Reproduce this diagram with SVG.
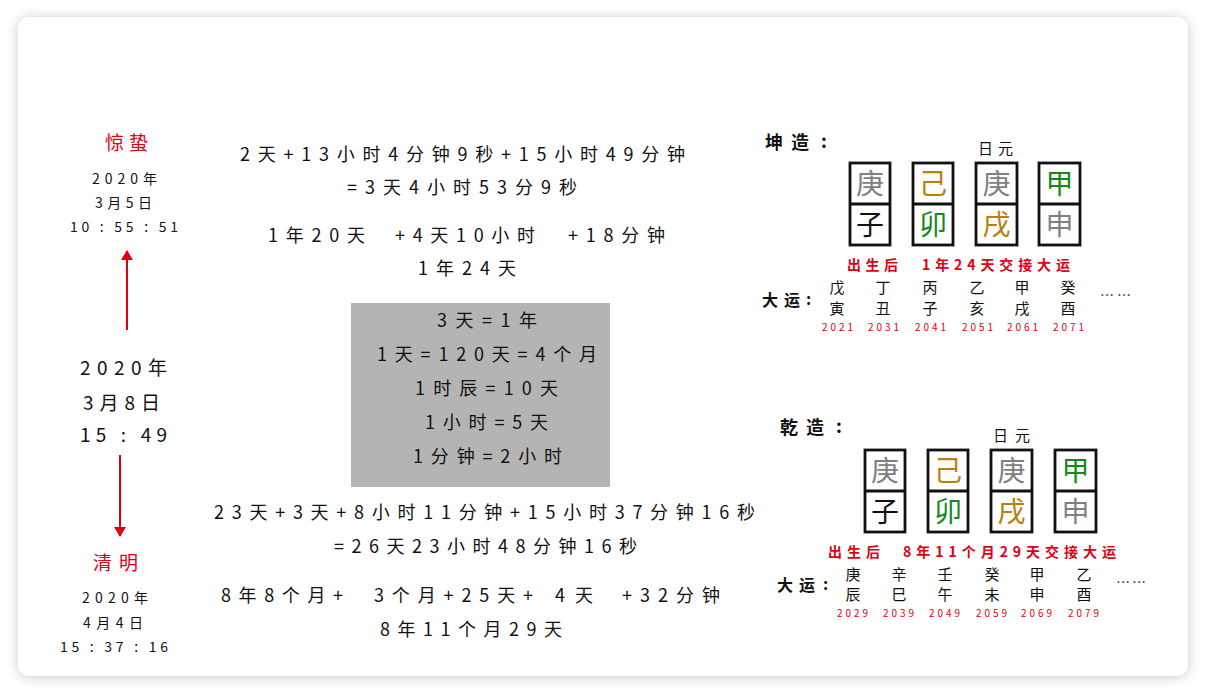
<svg xmlns="http://www.w3.org/2000/svg" width="1206" height="695" viewBox="0 0 1206 695">
<style>
text { font-family: "Noto Sans CJK SC", "Liberation Sans", sans-serif; fill: #111; }
.m { font-size: 18px; }
.s14 { font-size: 14px; }
.s19 { font-size: 19px; }
.red { fill: #e00014; }
.hd { font-size: 18px; font-weight: bold; }
.dy { font-size: 16px; font-weight: bold; }
.ry { font-size: 15px; }
.rk { font-size: 14px; fill: #e00014; font-weight: bold; }
.col { font-size: 15px; text-anchor: middle; }
.yr { font-size: 10px; fill: #e00014; }
.pc { font-size: 28px; text-anchor: middle; }
.gray { fill: #808080; }
.gold { fill: #bb800c; }
.green { fill: #13891a; }
.blk { fill: #111; }
.cell { fill: #fff; stroke: #111; stroke-width: 2.8; }
.arrow { stroke: #e00014; stroke-width: 2; fill: none; }
</style>
<defs>
<filter id="shadow" x="-5%" y="-5%" width="110%" height="110%">
<feDropShadow dx="0" dy="1" stdDeviation="6" flood-color="#000" flood-opacity="0.22"/>
</filter>
<marker id="ah" viewBox="0 0 10 12" refX="9" refY="6" markerWidth="10" markerHeight="12" markerUnits="userSpaceOnUse" orient="auto">
<path d="M0,0 L10,6 L0,12 z" fill="#e00014"/>
</marker>
</defs>
<rect x="0" y="0" width="1206" height="695" fill="#fff"/>
<rect x="18" y="17" width="1170" height="659" rx="12" fill="#fff" filter="url(#shadow)"/>

<g id="jingzhe">
<text class="s19 red" x="105" y="150" textLength="43" lengthAdjust="spacing">惊蛰</text>
<text class="s14" x="92" y="184" textLength="65" lengthAdjust="spacing">2020年</text>
<text class="s14" x="95" y="208" textLength="57" lengthAdjust="spacing">3月5日</text>
<text class="s14" x="70" y="232" textLength="108" lengthAdjust="spacing">10 : 55 : 51</text>
</g>

<g id="birth">
<text class="s19" x="80" y="375" textLength="87" lengthAdjust="spacing">2020年</text>
<text class="s19" x="83" y="410" textLength="77" lengthAdjust="spacing">3月8日</text>
<text class="s19" x="80" y="442" textLength="87" lengthAdjust="spacing">15 : 49</text>
</g>

<g id="qingming">
<text class="s19 red" x="93" y="570" textLength="45" lengthAdjust="spacing">清明</text>
<text class="s14" x="82" y="603" textLength="66" lengthAdjust="spacing">2020年</text>
<text class="s14" x="83" y="628" textLength="60" lengthAdjust="spacing">4月4日</text>
<text class="s14" x="60" y="652" textLength="108" lengthAdjust="spacing">15 : 37 : 16</text>
</g>

<g id="connectors">
<line class="arrow" x1="127" y1="330" x2="127" y2="251" marker-end="url(#ah)"/>
<line class="arrow" x1="120" y1="455" x2="120" y2="536" marker-end="url(#ah)"/>
</g>

<g id="calc-top">
<text class="m" x="240" y="161" textLength="445" lengthAdjust="spacing">2天+13小时4分钟9秒+15小时49分钟</text>
<text class="m" x="347" y="194" textLength="230" lengthAdjust="spacing">=3天4小时53分9秒</text>
<text class="m" x="268" y="242" textLength="97" lengthAdjust="spacing">1年20天</text>
<text class="m" x="395" y="242" textLength="140" lengthAdjust="spacing">+4天10小时</text>
<text class="m" x="568" y="242" textLength="97" lengthAdjust="spacing">+18分钟</text>
<text class="m" x="418" y="275" textLength="98" lengthAdjust="spacing">1年24天</text>
</g>

<g id="rules-box">
<rect x="351" y="303" width="259" height="184" fill="#b4b4b4"/>
<text class="m" x="437" y="327" textLength="100" lengthAdjust="spacing">3天=1年</text>
<text class="m" x="377" y="361" textLength="220" lengthAdjust="spacing">1天=120天=4个月</text>
<text class="m" x="415" y="395" textLength="143" lengthAdjust="spacing">1时辰=10天</text>
<text class="m" x="425" y="429" textLength="123" lengthAdjust="spacing">1小时=5天</text>
<text class="m" x="413" y="463" textLength="149" lengthAdjust="spacing">1分钟=2小时</text>
</g>

<g id="calc-bottom">
<text class="m" x="214" y="519" textLength="541" lengthAdjust="spacing">23天+3天+8小时11分钟+15小时37分钟16秒</text>
<text class="m" x="334" y="553" textLength="303" lengthAdjust="spacing">=26天23小时48分钟16秒</text>
<text class="m" x="221" y="602" textLength="122" lengthAdjust="spacing">8年8个月+</text>
<text class="m" x="374" y="602" textLength="159" lengthAdjust="spacing">3个月+25天+</text>
<text class="m" x="555" y="602" textLength="38" lengthAdjust="spacing">4天</text>
<text class="m" x="622" y="602" textLength="98" lengthAdjust="spacing">+32分钟</text>
<text class="m" x="380" y="636" textLength="182" lengthAdjust="spacing">8年11个月29天</text>
</g>

<g id="kun-chart">
<text class="hd" x="765" y="149" textLength="44" lengthAdjust="spacing">坤造</text>
<text class="hd" x="821" y="148">:</text>
<text class="ry" x="978" y="154" textLength="35" lengthAdjust="spacing">日元</text>
<rect class="cell" x="850" y="163" width="40" height="82"/><line class="cell" x1="850" y1="204" x2="890" y2="204"/>
<rect class="cell" x="913" y="163" width="40" height="82"/><line class="cell" x1="913" y1="204" x2="953" y2="204"/>
<rect class="cell" x="976" y="163" width="41" height="82"/><line class="cell" x1="976" y1="204" x2="1017" y2="204"/>
<rect class="cell" x="1039" y="163" width="41" height="82"/><line class="cell" x1="1039" y1="204" x2="1080" y2="204"/>
<text class="pc gray" x="870" y="194">庚</text>
<text class="pc gold" x="933" y="194">己</text>
<text class="pc gray" x="996.5" y="194">庚</text>
<text class="pc green" x="1059.5" y="194">甲</text>
<text class="pc blk" x="870" y="235">子</text>
<text class="pc green" x="933" y="235">卯</text>
<text class="pc gold" x="996.5" y="235">戌</text>
<text class="pc gray" x="1059.5" y="235">申</text>
<text class="rk" x="847" y="270" textLength="51" lengthAdjust="spacing">出生后</text>
<text class="rk" x="922" y="270" textLength="148" lengthAdjust="spacing">1年24天交接大运</text>
<text class="dy" x="762" y="306" textLength="38" lengthAdjust="spacing">大运</text>
<text class="dy" x="806" y="305">:</text>
<text class="col" x="837" y="293">戊</text><text class="col" x="837" y="314">寅</text>
<text class="col" x="883" y="293">丁</text><text class="col" x="883" y="314">丑</text>
<text class="col" x="930" y="293">丙</text><text class="col" x="930" y="314">子</text>
<text class="col" x="977" y="293">乙</text><text class="col" x="977" y="314">亥</text>
<text class="col" x="1022" y="293">甲</text><text class="col" x="1022" y="314">戌</text>
<text class="col" x="1068" y="293">癸</text><text class="col" x="1068" y="314">酉</text>
<text class="yr" x="822" y="331" textLength="31" lengthAdjust="spacing">2021</text>
<text class="yr" x="868" y="331" textLength="31" lengthAdjust="spacing">2031</text>
<text class="yr" x="915" y="331" textLength="31" lengthAdjust="spacing">2041</text>
<text class="yr" x="962" y="331" textLength="31" lengthAdjust="spacing">2051</text>
<text class="yr" x="1007" y="331" textLength="31" lengthAdjust="spacing">2061</text>
<text class="yr" x="1053" y="331" textLength="31" lengthAdjust="spacing">2071</text>
<text class="s14" x="1100" y="300" textLength="31" lengthAdjust="spacing">… …</text>
</g>

<g id="qian-chart">
<text class="hd" x="780" y="434" textLength="44" lengthAdjust="spacing">乾造</text>
<text class="hd" x="836" y="433">:</text>
<text class="ry" x="993" y="441" textLength="37" lengthAdjust="spacing">日元</text>
<rect class="cell" x="865" y="450" width="40" height="82"/><line class="cell" x1="865" y1="491" x2="905" y2="491"/>
<rect class="cell" x="928" y="450" width="40" height="82"/><line class="cell" x1="928" y1="491" x2="968" y2="491"/>
<rect class="cell" x="991" y="450" width="41" height="82"/><line class="cell" x1="991" y1="491" x2="1032" y2="491"/>
<rect class="cell" x="1055" y="450" width="41" height="82"/><line class="cell" x1="1055" y1="491" x2="1096" y2="491"/>
<text class="pc gray" x="885" y="481">庚</text>
<text class="pc gold" x="948" y="481">己</text>
<text class="pc gray" x="1011.5" y="481">庚</text>
<text class="pc green" x="1075.5" y="481">甲</text>
<text class="pc blk" x="885" y="522">子</text>
<text class="pc green" x="948" y="522">卯</text>
<text class="pc gold" x="1011.5" y="522">戌</text>
<text class="pc gray" x="1075.5" y="522">申</text>
<text class="rk" x="828" y="557" textLength="52" lengthAdjust="spacing">出生后</text>
<text class="rk" x="903" y="557" textLength="213" lengthAdjust="spacing">8年11个月29天交接大运</text>
<text class="dy" x="777" y="591" textLength="38" lengthAdjust="spacing">大运</text>
<text class="dy" x="823" y="590">:</text>
<text class="col" x="853" y="580">庚</text><text class="col" x="853" y="600">辰</text>
<text class="col" x="899" y="580">辛</text><text class="col" x="899" y="600">巳</text>
<text class="col" x="945" y="580">壬</text><text class="col" x="945" y="600">午</text>
<text class="col" x="992" y="580">癸</text><text class="col" x="992" y="600">未</text>
<text class="col" x="1037" y="580">甲</text><text class="col" x="1037" y="600">申</text>
<text class="col" x="1084" y="580">乙</text><text class="col" x="1084" y="600">酉</text>
<text class="yr" x="837" y="617" textLength="31" lengthAdjust="spacing">2029</text>
<text class="yr" x="883" y="617" textLength="31" lengthAdjust="spacing">2039</text>
<text class="yr" x="929" y="617" textLength="31" lengthAdjust="spacing">2049</text>
<text class="yr" x="976" y="617" textLength="31" lengthAdjust="spacing">2059</text>
<text class="yr" x="1021" y="617" textLength="31" lengthAdjust="spacing">2069</text>
<text class="yr" x="1068" y="617" textLength="31" lengthAdjust="spacing">2079</text>
<text class="s14" x="1116" y="587" textLength="30" lengthAdjust="spacing">… …</text>
</g>
</svg>
